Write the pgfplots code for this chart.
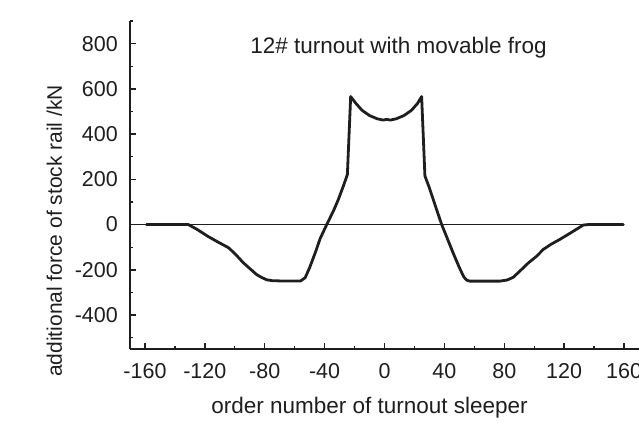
\documentclass[border=0pt]{standalone}
\usepackage{fontspec}
\setmainfont{Liberation Sans}
\usepackage{pgfplots}
\pgfplotsset{compat=1.18}
\definecolor{ink}{HTML}{1E1E1E}
\begin{document}
\begin{tikzpicture}
\path[use as bounding box] (-130pt,-74pt) rectangle (509pt,349pt);
\begin{axis}[
  scale only axis,
  width=509pt, height=328pt,
  xmin=-170, xmax=170, ymin=-550, ymax=900,
  axis x line=bottom, axis y line=left,
  axis line style={-, line width=1.6pt, ink},
  xtick={-160,-120,...,160},
  ytick={-400,-200,...,800},
  minor xtick={-140,-100,...,140},
  minor ytick={-500,-300,...,900},
  tick align=inside,
  major tick length=6pt, minor tick length=3.5pt,
  every tick/.style={ink, line width=1.4pt},
  /pgf/number format/assume math mode=true,
  ticklabel style={font=\fontsize{21.5}{24}\selectfont, text=ink, inner sep=0pt},
  yticklabel style={anchor=east, xshift=-12pt},
  xticklabel style={anchor=north, yshift=-14pt},
  clip=false,
]
\addplot[ink, line width=0.9pt] coordinates {(-170,0) (160,0)};
\addplot[ink, line width=2.8pt, line join=round, line cap=round] coordinates {
(-159,0) (-131,0) (-125,-22) (-118,-52) (-111,-78) (-104,-103) (-99,-135) (-94.3,-169)
(-89,-200) (-85.4,-221) (-82,-234) (-78.7,-244) (-75,-248) (-70,-249) (-56,-249)
(-53,-235) (-50,-190) (-46,-120) (-43,-62) (-38.6,0) (-34,62) (-30.9,110) (-27.5,170) (-24.8,221)
(-22.6,566) (-19,535) (-15,505) (-10,482) (-5,468) (-1,462) (1.5,465) (4,462) (8,468) (13,482) (18,505) (22,535) (24.8,566)
(27,215) (30,162) (34,82) (38.2,0) (42,-62) (46,-128) (50,-190) (53,-232) (55,-246) (57,-250)
(77,-250) (82,-245) (86,-233) (90.5,-205) (96,-170) (101.6,-140) (106,-110) (111,-88) (117,-66)
(124,-38) (132.8,-2) (136,0) (159.5,0)};
\node[font=\fontsize{22.5}{26}\selectfont, text=ink, anchor=base] at (rel axis cs:0.5275,0.902) {12\# turnout with movable frog};
\node[font=\fontsize{21}{24}\selectfont, text=ink, anchor=base, rotate=90] at ([xshift=-68pt]rel axis cs:0,0.36) {additional force of stock rail /kN};
\node[font=\fontsize{22.5}{26}\selectfont, text=ink, anchor=base] at ([yshift=-64pt]rel axis cs:0.4705,0) {order number of turnout sleeper};
\end{axis}
\end{tikzpicture}
\end{document}
